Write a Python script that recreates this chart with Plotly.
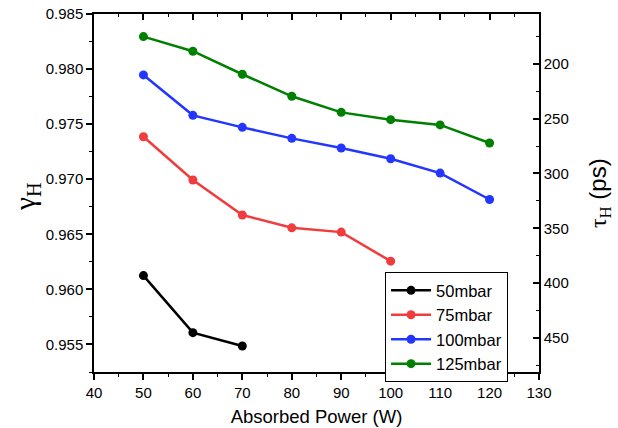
import plotly.graph_objects as go

power = [50, 60, 70, 80, 90, 100, 110, 120]
series_names = ["50mbar", "75mbar", "100mbar", "125mbar"]
gamma_50 = [0.96125, 0.95607, 0.95486]
gamma_75 = [0.97386, 0.96993, 0.96675, 0.96559, 0.96520, 0.96256]
gamma_100 = [0.97947, 0.97580, 0.97471, 0.97371, 0.97284, 0.97186, 0.97056, 0.96816]
gamma_125 = [0.98295, 0.98162, 0.97953, 0.97753, 0.97607, 0.97541, 0.97493, 0.97329]
colors = ["#000000", "#f03c3c", "#2236ff", "#008000"]

all_gamma = [gamma_50, gamma_75, gamma_100, gamma_125]

fig = go.Figure()
for name, g, c in zip(series_names, all_gamma, colors):
    fig.add_trace(go.Scatter(
        x=power[:len(g)], y=g, name=name, mode="lines+markers",
        line=dict(color=c, width=2.5),
        marker=dict(color=c, size=9, symbol="circle", line=dict(width=0)),
    ))

# dummy trace for the secondary axes
fig.add_trace(go.Scatter(x=[], y=[], xaxis="x2", yaxis="y2", showlegend=False))

tickfont = dict(family="Liberation Sans, Arial", size=15, color="black")

fig.update_layout(
    width=618, height=428,
    margin=dict(l=94, r=79, t=14, b=56, autoexpand=False),
    paper_bgcolor="white", plot_bgcolor="white",
    showlegend=True,
    legend=dict(x=0.654, y=0.279, xanchor="left", yanchor="top",
                bgcolor="white", bordercolor="black", borderwidth=1,
                font=dict(family="Liberation Sans, Arial", size=16.5, color="black"),
                tracegroupgap=0, itemwidth=40),
    xaxis=dict(range=[40, 130], dtick=10, tick0=40, showgrid=False, zeroline=False,
               automargin=False,
               showline=True, linecolor="black", linewidth=1.5,
               ticks="outside", ticklen=6, tickwidth=1.5, tickcolor="black",
               minor=dict(dtick=5, ticks="outside", ticklen=3, tickwidth=1.2, tickcolor="black"),
               tickfont=tickfont,
               title=dict(text="Absorbed Power (W)",
                          font=dict(family="Liberation Sans, Arial", size=18.5, color="black"),
                          standoff=10)),
    xaxis2=dict(range=[40, 130], dtick=10, tick0=40, overlaying="x", side="top",
                automargin=False,
                showgrid=False, zeroline=False, showticklabels=False,
                showline=True, linecolor="black", linewidth=1.5,
                ticks="inside", ticklen=6, tickwidth=1.5, tickcolor="black",
                minor=dict(dtick=5, ticks="inside", ticklen=3, tickwidth=1.2, tickcolor="black")),
    yaxis=dict(range=[0.9525, 0.985], dtick=0.005, tick0=0.955, tickformat=".3f",
               automargin=False,
               showgrid=False, zeroline=False,
               showline=True, linecolor="black", linewidth=1.5,
               ticks="outside", ticklen=6, tickwidth=1.5, tickcolor="black",
               minor=dict(dtick=0.0025, ticks="outside", ticklen=3, tickwidth=1.2, tickcolor="black"),
               tickfont=tickfont),
    yaxis2=dict(range=[480.9, 154.7], dtick=50, tick0=200, overlaying="y", side="right",
                automargin=False,
                showgrid=False, zeroline=False,
                showline=True, linecolor="black", linewidth=1.5,
                ticks="inside", ticklen=6, tickwidth=1.5, tickcolor="black",
                minor=dict(dtick=25, ticks="inside", ticklen=3, tickwidth=1.2, tickcolor="black"),
                tickfont=tickfont),
    annotations=[
        dict(text="<span style='font-family:Liberation Serif'>γ<sub>H</sub></span>",
             xref="paper", yref="paper", x=-0.152, y=0.49, xanchor="center", yanchor="middle",
             textangle=-90, showarrow=False,
             font=dict(family="Liberation Serif", size=29, color="black")),
        dict(text="<span style='font-family:Liberation Serif'>τ<sub>H</sub></span> (ps)",
             xref="paper", yref="paper", x=1.135, y=0.50, xanchor="center", yanchor="middle",
             textangle=-90, showarrow=False,
             font=dict(family="Liberation Sans, Arial", size=24, color="black")),
    ],
)

fig.write_html("out.html", config={"displayModeBar": False},
               post_script="document.body.style.margin='0';document.body.style.padding='0';")
